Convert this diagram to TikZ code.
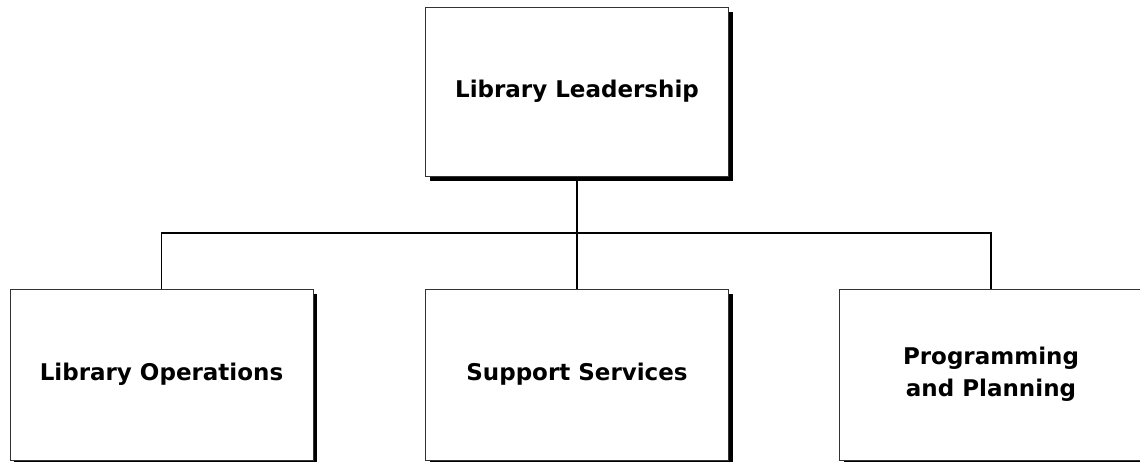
\documentclass[tikz,border=0pt]{standalone}
\usepackage{fontspec}
\setmainfont{DejaVu Sans}
\usetikzlibrary{shadows}
\begin{document}
\begin{tikzpicture}[x=1pt,y=-1pt,
  orgbox/.style={draw=black!80, line width=1pt, fill=white,
    minimum width=303pt, minimum height=170pt, inner sep=0pt,
    align=center, font=\fontsize{23}{32}\selectfont\bfseries,
    drop shadow={shadow xshift=4pt, shadow yshift=-4.5pt, fill=black, opacity=1}},
  link/.style={draw=black, line width=1.3pt}]
\useasboundingbox (0,0) rectangle (1140,461);
\node[orgbox, minimum height=169pt] (lead) at (577,91.5) {Library Leadership};
\node[orgbox, minimum height=171pt] (ops) at (161.5,374.5) {Library Operations};
\node[orgbox, minimum height=171pt] (sup) at (577,374.5) {Support Services};
\node[orgbox, minimum height=171pt] (prog) at (991,374.5) {Programming\\and Planning};
\coordinate (j) at (577,233);
\draw[link] (lead.south) -- (j);
\draw[link] (j) -- (sup.north);
\draw[link] (ops.north) |- (j);
\draw[link] (prog.north) |- (j);
\end{tikzpicture}
\end{document}
